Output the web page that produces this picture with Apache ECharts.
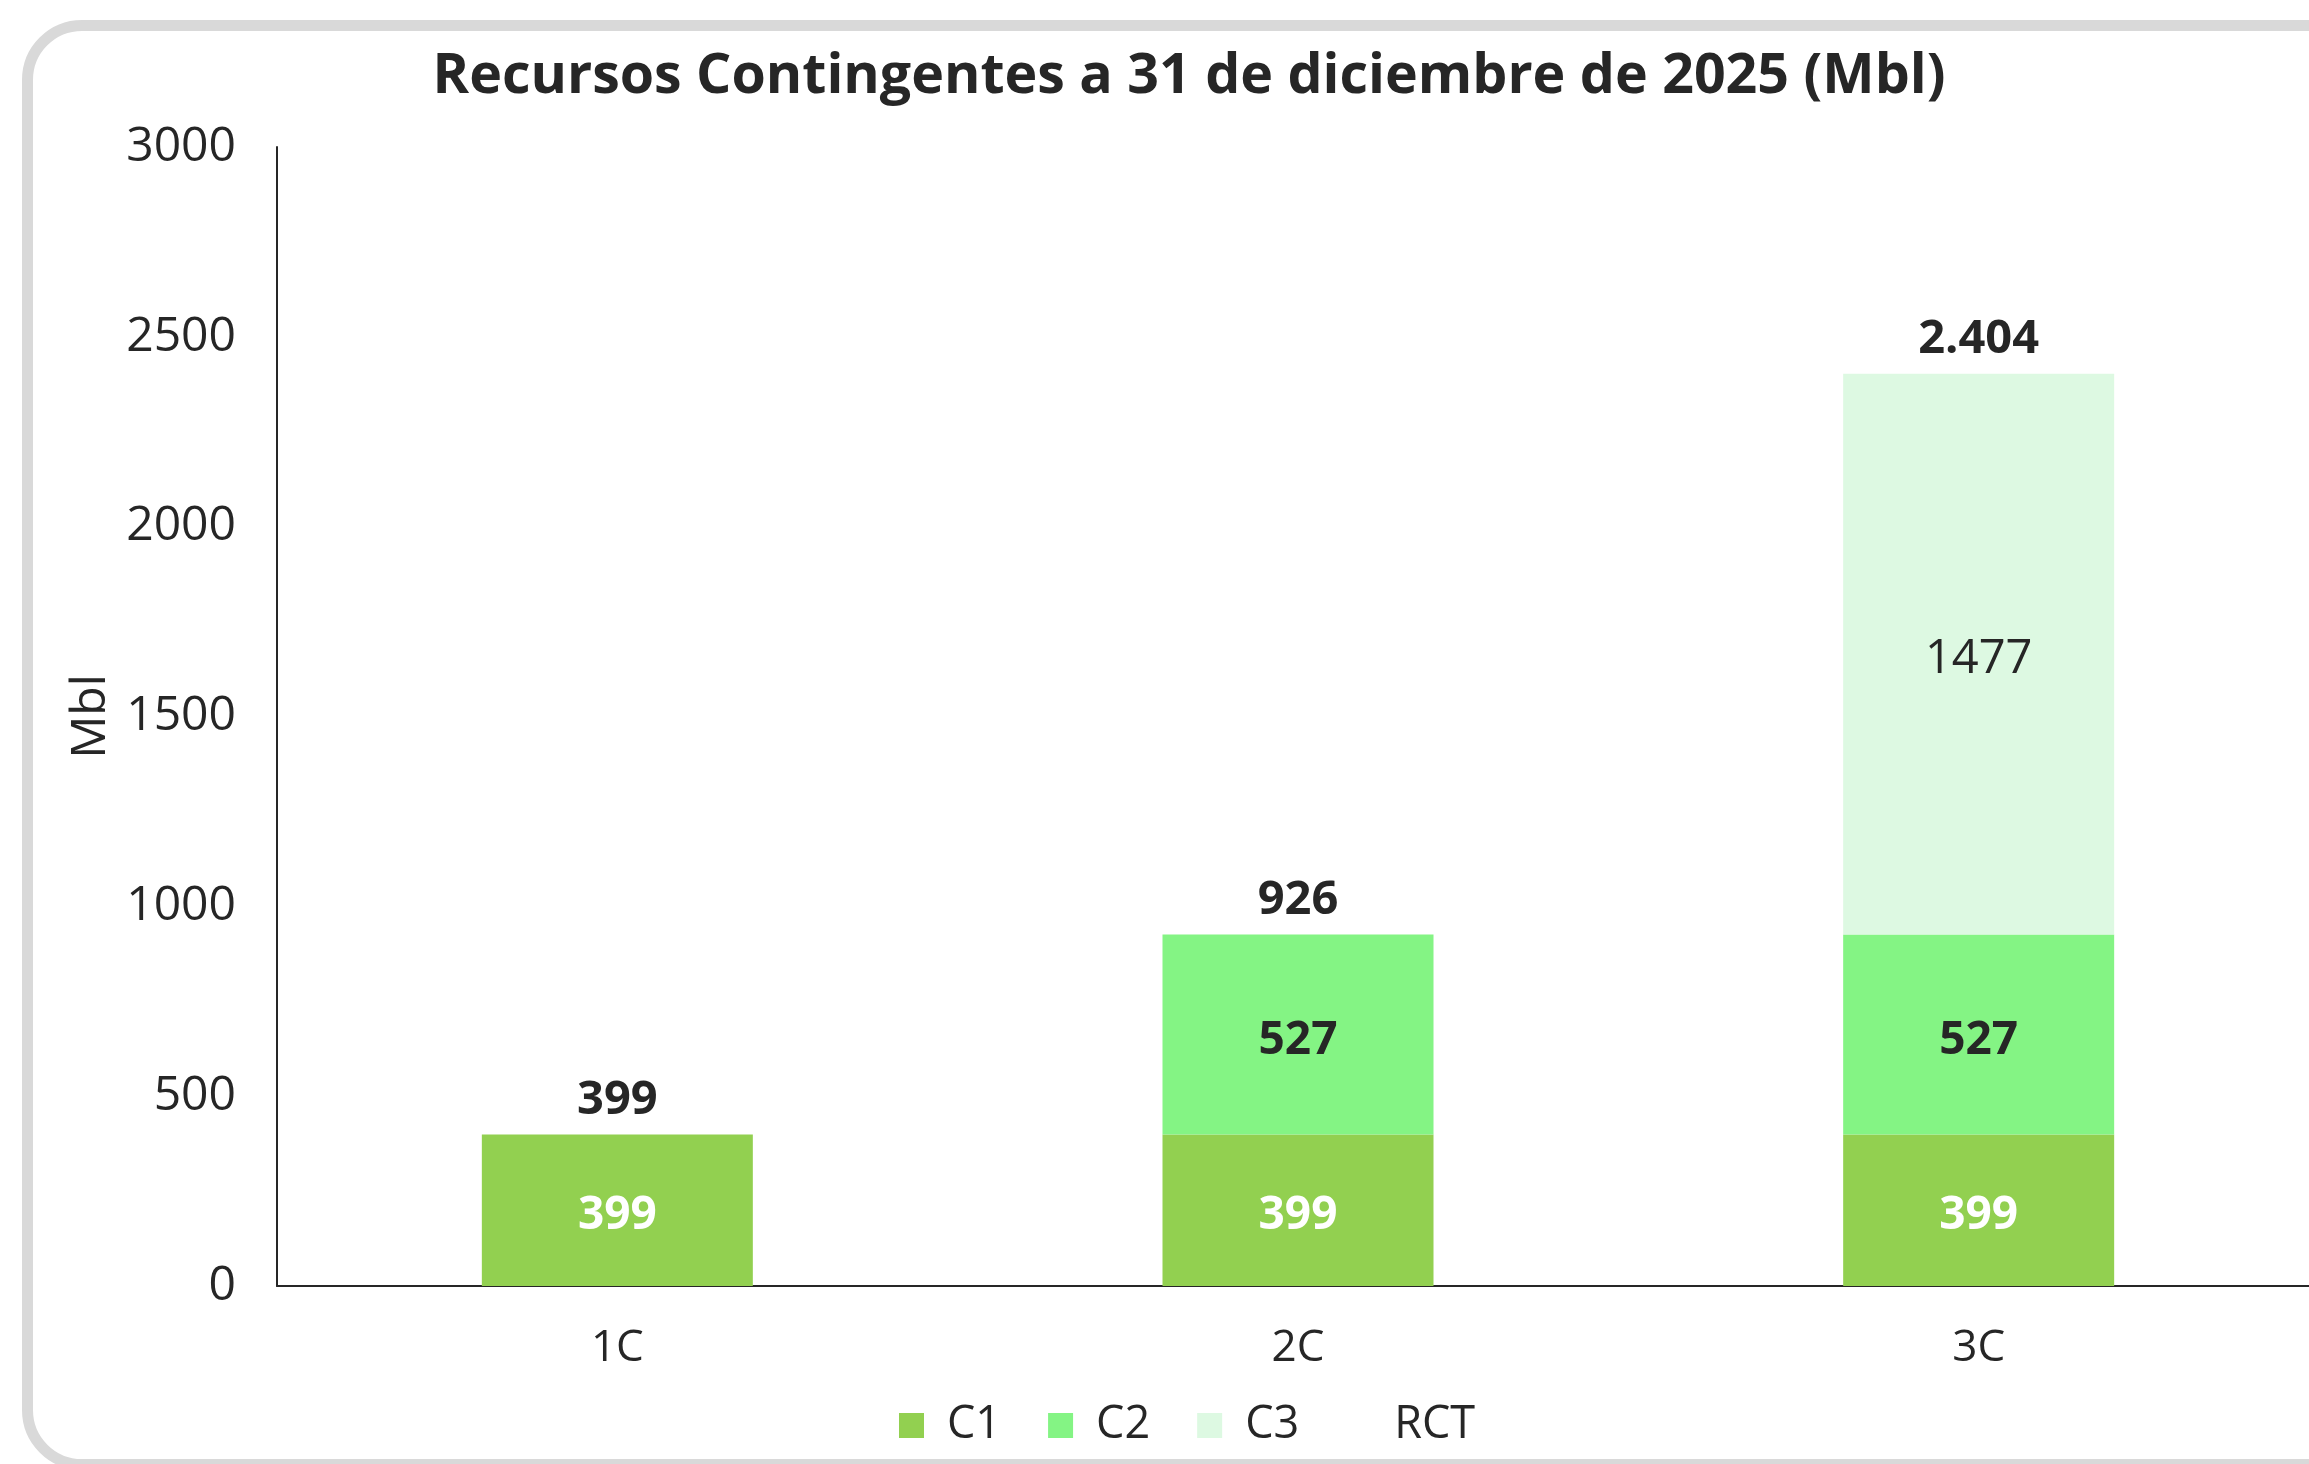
<!DOCTYPE html>
<html>
<head>
<meta charset="utf-8">
<script src="https://cdn.jsdelivr.net/npm/echarts@6/dist/echarts.min.js"></script>
<style>
html,body{margin:0;padding:0;background:#fff;overflow:hidden;width:2309px;height:1464px;}
#card{position:absolute;left:22px;top:20px;width:2400px;height:1428px;border:11px solid #d9d9d9;border-radius:60px;background:#fff;}
#chart{position:absolute;left:0;top:0;width:2400px;height:1464px;}
</style>
</head>
<body>
<div id="card"></div>
<div id="chart"></div>
<script>
const categories = ['1C', '2C', '3C'];
const c1Values = [399, 399, 399];
const c2Values = [null, 527, 527];
const c3Values = [null, null, 1477];
const rctValues = [399, 926, 2404];
const yTicks = [0, 500, 1000, 1500, 2000, 2500, 3000];

const FONT = '"Open Sans", "Noto Sans", sans-serif';
const DARK = '#262626';
const chart = echarts.init(document.getElementById('chart'), null, {renderer: 'canvas'});

function fmtThousands(v) {
  return String(v).replace(/\B(?=(\d{3})+(?!\d))/g, '.');
}

const insideOffset = [0, 6];

chart.setOption({
  backgroundColor: 'transparent',
  animation: false,
  textStyle: {fontFamily: FONT},
  title: {
    text: 'Recursos Contingentes a 31 de diciembre de 2025 (Mbl)',
    left: 1184, top: 44, textAlign: 'center',
    textStyle: {fontFamily: FONT, fontWeight: 'bold', fontSize: 55.5, color: DARK}
  },
  legend: {
    data: ['C1', 'C2', 'C3', 'RCT'],
    left: 894, top: 1398,
    icon: 'rect', itemWidth: 25, itemHeight: 25, itemGap: 47,
    textStyle: {fontFamily: FONT, fontSize: 45, color: DARK, padding: [0, 0, 0, 18]}
  },
  grid: {left: 277, top: 147, width: 2042, height: 1139, containLabel: false},
  xAxis: {
    type: 'category', data: categories,
    axisLine: {show: true, lineStyle: {color: DARK, width: 2}},
    axisTick: {show: false},
    axisLabel: {fontFamily: FONT, fontSize: 44, color: DARK, margin: 40}
  },
  yAxis: {
    type: 'value', min: yTicks[0], max: yTicks[yTicks.length - 1], interval: 500,
    name: 'Mbl', nameLocation: 'middle', nameGap: 158, nameRotate: 90,
    nameTextStyle: {fontFamily: FONT, fontSize: 48, color: DARK},
    axisLine: {show: true, lineStyle: {color: DARK, width: 2}},
    axisTick: {show: false},
    splitLine: {show: false},
    axisLabel: {fontFamily: FONT, fontSize: 48, color: DARK, margin: 41, formatter: v => String(v)}
  },
  series: [
    {
      name: 'C1', type: 'bar', stack: 'total', barWidth: 271, data: c1Values,
      itemStyle: {color: '#92D050'},
      label: {show: true, position: 'inside', offset: insideOffset, fontFamily: FONT, fontWeight: 'bold', fontSize: 46, color: '#ffffff'}
    },
    {
      name: 'C2', type: 'bar', stack: 'total', barWidth: 271, data: c2Values,
      itemStyle: {color: '#84F484'},
      label: {show: true, position: 'inside', offset: insideOffset, fontFamily: FONT, fontWeight: 'bold', fontSize: 46, color: DARK}
    },
    {
      name: 'C3', type: 'bar', stack: 'total', barWidth: 271, data: c3Values,
      itemStyle: {color: '#DDF9E2'},
      label: {show: true, position: 'inside', offset: insideOffset, fontFamily: FONT, fontSize: 47, color: DARK}
    },
    {
      name: 'RCT', type: 'bar', barWidth: 271, barGap: '-100%', data: rctValues, z: 1,
      itemStyle: {color: 'rgba(0,0,0,0)'},
      label: {show: true, position: 'top', distance: 10, fontFamily: FONT, fontWeight: 'bold', fontSize: 47, color: DARK,
        formatter: p => fmtThousands(p.value)}
    }
  ]
});
</script>
</body>
</html>
